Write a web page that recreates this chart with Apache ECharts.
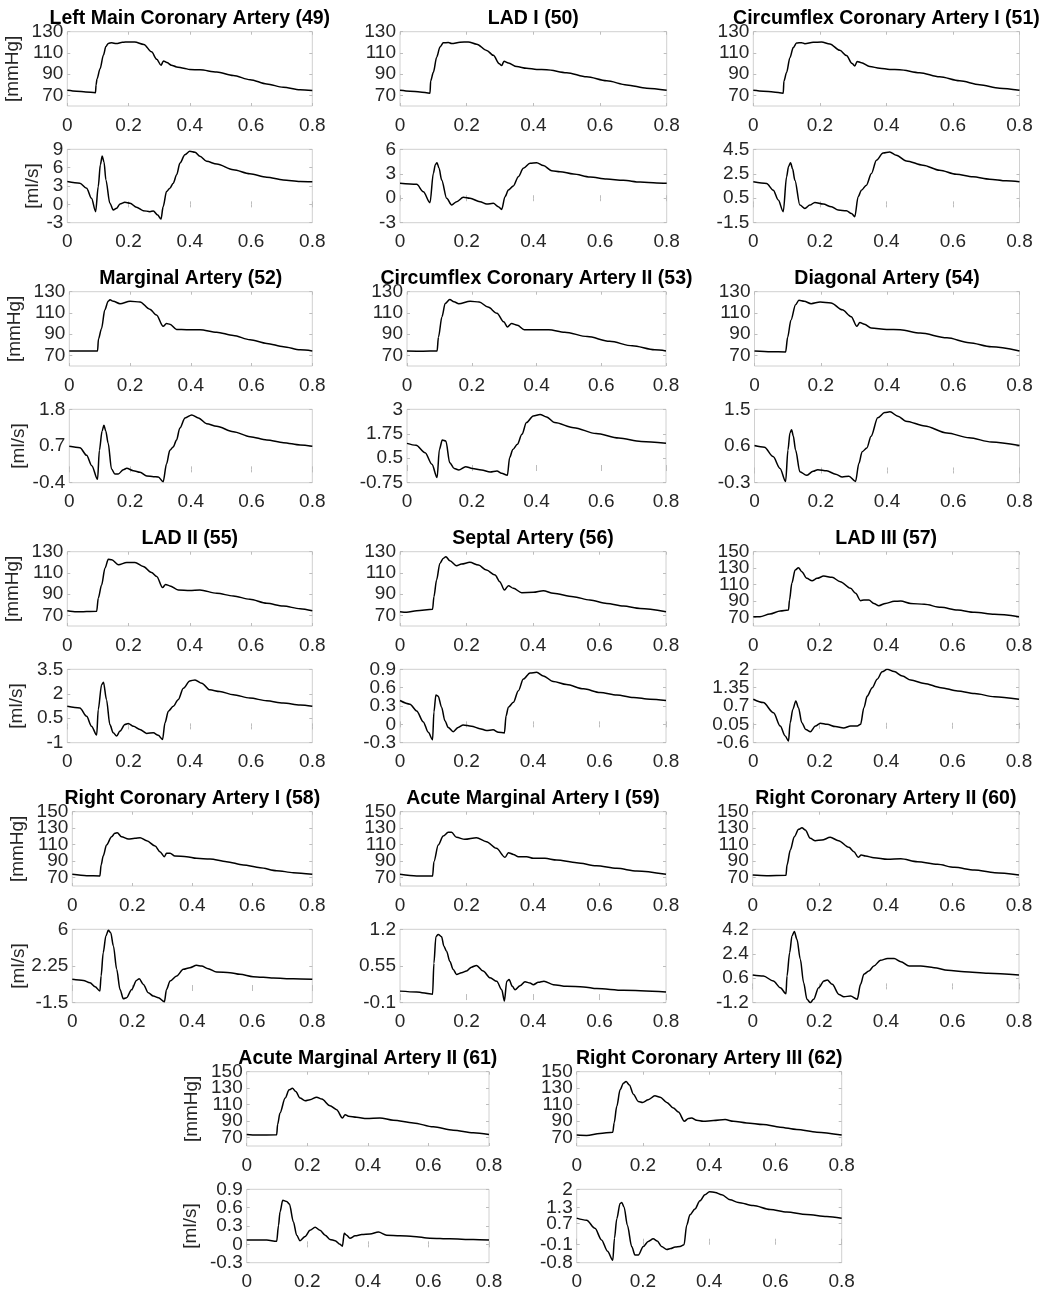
<!DOCTYPE html>
<html>
<head>
<meta charset="utf-8">
<title>Coronary pressure and flow waveforms</title>
<script src="https://cdn.jsdelivr.net/npm/echarts@6/dist/echarts.min.js"></script>
<style>
  html, body { margin: 0; padding: 0; background: #fff; }
  #chart { width: 1045px; height: 1293px; }
</style>
</head>
<body>
<div id="chart"></div>
<script>
// ---- Vessel names ----
const TITLES = [
  'Left Main Coronary Artery (49)', 'LAD I (50)', 'Circumflex Coronary Artery I (51)',
  'Marginal Artery (52)', 'Circumflex Coronary Artery II (53)', 'Diagonal Artery (54)',
  'LAD II (55)', 'Septal Artery (56)', 'LAD III (57)',
  'Right Coronary Artery I (58)', 'Acute Marginal Artery I (59)', 'Right Coronary Artery II (60)',
  'Acute Marginal Artery II (61)', 'Right Coronary Artery III (62)'
];

// ---- Tick labels ----
const X_TICKS = [0, 0.2, 0.4, 0.6, 0.8];
const P_TICKS_130 = [70, 90, 110, 130];
const P_TICKS_150 = [70, 90, 110, 130, 150];
const Q_TICKS = [
  [-3, 0, 3, 6, 9], [-3, 0, 3, 6], [-1.5, 0.5, 2.5, 4.5],
  [-0.4, 0.7, 1.8], [-0.75, 0.5, 1.75, 3], [-0.3, 0.6, 1.5],
  [-1, 0.5, 2, 3.5], [-0.3, 0, 0.3, 0.6, 0.9], [-0.6, 0.05, 0.7, 1.35, 2],
  [-1.5, 2.25, 6], [-0.1, 0.55, 1.2], [-1.2, 0.6, 2.4, 4.2],
  [-0.3, 0, 0.3, 0.6, 0.9], [-0.8, -0.1, 0.7, 1.3, 2]
];

// ---- Pressure [mmHg] over one cardiac cycle, [t (s), p] ----
const p49 = [[0,74.8],[0.03,74],[0.06,73.2],[0.092,72.5],[0.094,80],[0.097,85.5],[0.107,95],[0.118,108],[0.126,116],[0.134,119],[0.145,119.6],[0.16,118.8],[0.18,120],[0.2,120.4],[0.22,120.2],[0.25,118],[0.275,111],[0.292,104],[0.306,98.4],[0.314,102.4],[0.325,101],[0.34,98.5],[0.357,96.8],[0.38,95.6],[0.4,94.3],[0.433,94.1],[0.488,92],[0.542,88.7],[0.597,84.8],[0.651,80.8],[0.705,77.6],[0.76,75.3],[0.8,74.6]];
const p50 = [[0,74.8],[0.03,74],[0.06,73.2],[0.09,72.1],[0.092,83.7],[0.1,91.7],[0.11,106],[0.12,115.6],[0.13,119.5],[0.145,119.8],[0.155,118.8],[0.18,120.1],[0.205,120.4],[0.23,118.2],[0.26,112.4],[0.28,107.7],[0.298,99.7],[0.305,98.1],[0.312,102.2],[0.325,100.6],[0.35,97.1],[0.38,95.5],[0.41,94.5],[0.44,94.2],[0.5,91.4],[0.56,87.5],[0.62,83.7],[0.68,79.9],[0.74,76.7],[0.8,74.8]];
const p51 = [[0,74.8],[0.03,74],[0.06,73.2],[0.09,72.1],[0.092,83.5],[0.1,91.5],[0.11,105.5],[0.12,115],[0.13,119.3],[0.145,119.7],[0.155,118.7],[0.18,120],[0.205,120.3],[0.23,118.5],[0.26,112.5],[0.28,107.5],[0.297,100],[0.305,97.8],[0.312,102],[0.325,100.8],[0.35,97.2],[0.38,95.6],[0.41,94.5],[0.44,94.2],[0.5,91.4],[0.56,87.5],[0.62,83.7],[0.68,80],[0.74,76.8],[0.8,74.8]];
const p52 = [[0,74.2],[0.05,74.2],[0.093,74.2],[0.096,85.5],[0.106,95.2],[0.117,112.9],[0.128,121],[0.134,122.3],[0.145,121],[0.167,118.7],[0.2,121],[0.233,120.3],[0.265,113.5],[0.287,108],[0.309,97.4],[0.32,100],[0.331,99.4],[0.353,94.5],[0.386,94.2],[0.43,94.2],[0.485,91.9],[0.54,88.7],[0.595,84.8],[0.65,81.3],[0.705,78.1],[0.76,75.2],[0.8,74.2]];
const p53 = [[0,74.2],[0.05,74],[0.093,74.2],[0.097,87],[0.108,106.5],[0.118,119],[0.132,122.6],[0.145,120.5],[0.16,118.7],[0.195,121],[0.223,120.3],[0.25,115.5],[0.278,109.7],[0.299,101.6],[0.31,96.8],[0.323,100],[0.341,98.4],[0.362,94.2],[0.404,94.2],[0.438,94.2],[0.487,91.9],[0.557,87.7],[0.626,83.2],[0.696,79],[0.765,75.2],[0.8,74.2]];
const p54 = [[0,74.2],[0.05,73.5],[0.094,73.2],[0.1,87],[0.11,103.2],[0.124,117.7],[0.134,121.9],[0.15,121],[0.171,118.7],[0.198,120.3],[0.231,119.4],[0.265,112.9],[0.292,106.5],[0.309,97.4],[0.318,101],[0.332,99.4],[0.352,95.8],[0.399,94.5],[0.44,94.2],[0.5,91],[0.581,86.5],[0.648,81.9],[0.715,78.1],[0.8,74.2]];
const p55 = [[0,74.4],[0.03,73.4],[0.096,74],[0.101,86.1],[0.112,98.7],[0.123,114.5],[0.134,123],[0.145,122.4],[0.167,117.7],[0.194,119.9],[0.221,119.9],[0.248,116.1],[0.275,110.4],[0.292,106.6],[0.311,96.2],[0.321,99.1],[0.335,97.8],[0.362,94],[0.4,93.4],[0.433,94],[0.488,90.8],[0.542,88.3],[0.596,85.2],[0.651,81.4],[0.705,78.8],[0.76,76.3],[0.8,74.4]];
const p56 = [[0,73.5],[0.02,72.9],[0.05,74.4],[0.098,75.7],[0.102,87.6],[0.11,103.3],[0.12,119],[0.13,123.7],[0.138,125.3],[0.15,121.5],[0.17,116.8],[0.185,118.4],[0.21,120],[0.236,117.4],[0.26,112.7],[0.286,108],[0.3,101.8],[0.314,93.9],[0.326,98],[0.341,95.5],[0.366,91.4],[0.401,91.7],[0.431,93.3],[0.461,90.8],[0.521,87.6],[0.571,84.5],[0.622,81.3],[0.672,78.8],[0.722,76.6],[0.8,73.5]];
const p57 = [[0,71.3],[0.02,71.3],[0.05,74.5],[0.081,78.2],[0.106,79.4],[0.109,91.5],[0.116,111.7],[0.126,127.8],[0.136,130.6],[0.146,125.8],[0.161,117.7],[0.177,114.9],[0.192,117.7],[0.212,120.5],[0.237,118.9],[0.262,113.7],[0.293,105.6],[0.308,99.6],[0.323,90.7],[0.333,91.5],[0.348,91.5],[0.363,87.4],[0.378,84.6],[0.398,87.4],[0.424,89.9],[0.444,90.3],[0.474,87.4],[0.515,86.2],[0.565,82.6],[0.615,79.4],[0.666,76.6],[0.726,74.1],[0.8,71.3]];
const p58 = [[0,74.1],[0.048,72.5],[0.092,72.1],[0.096,85.4],[0.103,96.3],[0.114,109.6],[0.131,119.7],[0.142,123.8],[0.15,124.6],[0.164,119.7],[0.187,116.9],[0.209,117.7],[0.226,118.5],[0.248,114.9],[0.276,108.4],[0.292,101.6],[0.307,95.5],[0.314,99.6],[0.326,99.6],[0.342,96.3],[0.381,95.5],[0.414,93.5],[0.459,92.7],[0.514,89.5],[0.57,85.4],[0.626,82.2],[0.681,78.6],[0.737,76.2],[0.8,74.1]];
const p59 = [[0,74.1],[0.05,72.1],[0.098,72.1],[0.102,89.5],[0.115,109.6],[0.13,120.5],[0.145,125],[0.155,125],[0.17,118.9],[0.195,116.5],[0.23,118.5],[0.26,113.7],[0.29,105.6],[0.316,94.7],[0.326,100.4],[0.341,98.3],[0.356,95.5],[0.381,95.5],[0.401,93.5],[0.436,93.5],[0.471,91.5],[0.531,88.3],[0.591,84.6],[0.652,81.4],[0.712,78.2],[0.8,74.1]];
const p60 = [[0,73.3],[0.042,72.5],[0.1,72.9],[0.103,85.4],[0.113,103.6],[0.125,119.7],[0.138,128.6],[0.148,130.6],[0.158,127.8],[0.173,117.7],[0.188,114.9],[0.208,115.7],[0.233,118.9],[0.258,114.9],[0.289,106.8],[0.304,101.6],[0.317,94.7],[0.326,97.5],[0.339,96.3],[0.364,94.3],[0.405,92.3],[0.445,93.1],[0.495,89.5],[0.555,86.2],[0.606,82.6],[0.666,79.4],[0.727,76.2],[0.8,73.3]];
const p61 = [[0,74],[0.033,73.2],[0.099,73.6],[0.102,86],[0.11,100],[0.127,118],[0.14,128],[0.151,130],[0.162,126],[0.176,118],[0.193,114.8],[0.209,116],[0.231,119.2],[0.248,116.8],[0.275,108.8],[0.297,104],[0.316,94],[0.325,98],[0.336,96],[0.363,94.8],[0.396,93.2],[0.44,94],[0.484,91.2],[0.55,88],[0.616,83.2],[0.682,79.2],[0.748,76],[0.8,74]];
const p62 = [[0,73.2],[0.03,72.8],[0.07,75.2],[0.109,76.8],[0.113,88],[0.121,108],[0.131,128],[0.141,136],[0.149,138],[0.159,134],[0.171,122.8],[0.186,114],[0.199,112.8],[0.216,116],[0.236,120.8],[0.252,119.2],[0.272,112.8],[0.292,106],[0.307,101.2],[0.325,90],[0.337,93.2],[0.347,94],[0.362,91.2],[0.382,90],[0.413,90.8],[0.448,92],[0.473,90],[0.513,88],[0.563,86],[0.614,82.8],[0.664,80],[0.725,76.8],[0.8,73.2]];

// ---- Flow [ml/s] over one cardiac cycle, [t (s), q] ----
const q49 = [[0,3.74],[0.041,3.47],[0.063,2.64],[0.079,1.0],[0.0925,-1.19],[0.101,2.9],[0.108,6.5],[0.114,7.9],[0.12,6.9],[0.126,4.0],[0.139,0.18],[0.15,-0.92],[0.161,-0.64],[0.172,0.07],[0.188,0.34],[0.205,0.18],[0.226,-0.48],[0.248,-1.03],[0.27,-1.19],[0.281,-1.08],[0.295,-1.74],[0.306,-2.4],[0.313,-0.37],[0.324,2.1],[0.335,2.64],[0.346,3.47],[0.357,4.84],[0.368,6.75],[0.384,8.12],[0.4,8.67],[0.417,8.5],[0.433,7.85],[0.455,7.03],[0.488,6.59],[0.542,5.66],[0.596,5.0],[0.651,4.45],[0.705,4.0],[0.76,3.74],[0.8,3.7]];
const q50 = [[0,1.83],[0.05,1.7],[0.07,0.8],[0.09,-0.55],[0.1,3.05],[0.106,4.1],[0.111,4.36],[0.117,3.7],[0.125,2.24],[0.14,-0.01],[0.155,-0.83],[0.17,-0.42],[0.19,0.11],[0.21,-0.01],[0.24,-0.42],[0.26,-0.71],[0.28,-0.63],[0.295,-1.04],[0.305,-1.37],[0.315,0.19],[0.325,1.0],[0.34,1.5],[0.355,2.64],[0.37,3.67],[0.39,4.28],[0.41,4.36],[0.43,4.0],[0.455,3.38],[0.48,3.26],[0.52,2.97],[0.57,2.6],[0.62,2.36],[0.67,2.2],[0.72,1.99],[0.77,1.87],[0.8,1.83]];
const q51 = [[0,1.84],[0.04,1.7],[0.06,1.16],[0.075,0.35],[0.09,-0.6],[0.1,2.25],[0.106,3.1],[0.112,3.41],[0.118,2.9],[0.125,1.97],[0.14,-0.06],[0.155,-0.33],[0.17,-0.06],[0.185,0.16],[0.21,0.02],[0.235,-0.2],[0.255,-0.47],[0.28,-0.52],[0.295,-0.74],[0.305,-1.01],[0.315,0.62],[0.325,1.16],[0.34,1.57],[0.355,2.52],[0.37,3.6],[0.39,4.2],[0.41,4.28],[0.43,4.01],[0.46,3.55],[0.51,3.2],[0.56,2.79],[0.61,2.46],[0.66,2.25],[0.71,2.06],[0.76,1.92],[0.8,1.84]];
const q52 = [[0,0.69],[0.035,0.65],[0.057,0.42],[0.074,0.11],[0.093,-0.3],[0.099,0.57],[0.108,1.15],[0.114,1.32],[0.12,1.15],[0.128,0.78],[0.139,0.01],[0.15,-0.14],[0.161,-0.14],[0.178,-0.01],[0.189,0.03],[0.211,-0.04],[0.233,-0.09],[0.255,-0.2],[0.277,-0.22],[0.293,-0.23],[0.309,-0.37],[0.32,0.16],[0.331,0.57],[0.342,0.67],[0.353,0.88],[0.364,1.24],[0.381,1.54],[0.403,1.63],[0.425,1.54],[0.452,1.37],[0.485,1.29],[0.54,1.13],[0.595,0.98],[0.65,0.88],[0.705,0.8],[0.76,0.73],[0.8,0.69]];
const q53 = [[0,1.26],[0.028,1.16],[0.056,0.78],[0.077,0.19],[0.093,-0.49],[0.1,0.95],[0.109,1.43],[0.12,1.38],[0.132,0.27],[0.146,-0.03],[0.16,-0.1],[0.181,0.07],[0.202,-0.02],[0.23,-0.1],[0.257,-0.2],[0.278,-0.15],[0.292,-0.27],[0.31,-0.37],[0.317,0.53],[0.327,0.95],[0.341,1.21],[0.355,1.72],[0.369,2.32],[0.39,2.66],[0.411,2.74],[0.431,2.61],[0.456,2.32],[0.515,2.06],[0.584,1.76],[0.654,1.53],[0.723,1.36],[0.8,1.26]];
const q54 = [[0,0.61],[0.03,0.57],[0.056,0.34],[0.077,0.05],[0.094,-0.27],[0.101,0.5],[0.107,0.92],[0.112,1.0],[0.117,0.85],[0.124,0.5],[0.137,-0.03],[0.157,-0.12],[0.177,-0.02],[0.191,0.02],[0.218,-0.01],[0.245,-0.09],[0.265,-0.16],[0.285,-0.14],[0.305,-0.27],[0.315,0.17],[0.325,0.46],[0.339,0.55],[0.352,0.84],[0.372,1.29],[0.393,1.42],[0.409,1.44],[0.433,1.33],[0.457,1.21],[0.514,1.09],[0.581,0.92],[0.648,0.8],[0.715,0.7],[0.8,0.61]];
const q55 = [[0,1.23],[0.041,1.13],[0.063,0.62],[0.079,0.01],[0.096,-0.53],[0.101,1.03],[0.112,2.55],[0.118,2.71],[0.128,1.64],[0.139,0.11],[0.15,-0.39],[0.161,-0.59],[0.172,-0.29],[0.188,0.11],[0.199,0.18],[0.216,0.01],[0.237,-0.19],[0.259,-0.43],[0.281,-0.39],[0.297,-0.55],[0.311,-0.8],[0.319,0.22],[0.33,0.93],[0.346,1.23],[0.362,1.64],[0.379,2.34],[0.4,2.79],[0.417,2.85],[0.439,2.65],[0.465,2.24],[0.498,2.14],[0.542,1.94],[0.596,1.74],[0.651,1.57],[0.705,1.43],[0.76,1.31],[0.8,1.23]];
const q56 = [[0,0.39],[0.03,0.33],[0.05,0.22],[0.07,0.04],[0.085,-0.13],[0.098,-0.25],[0.102,0.2],[0.108,0.48],[0.115,0.46],[0.125,0.28],[0.135,0.06],[0.145,-0.05],[0.16,-0.12],[0.175,-0.05],[0.19,-0.01],[0.215,-0.03],[0.24,-0.07],[0.26,-0.1],[0.28,-0.09],[0.296,-0.13],[0.314,-0.14],[0.319,0.14],[0.326,0.28],[0.341,0.36],[0.356,0.55],[0.371,0.74],[0.391,0.84],[0.411,0.85],[0.431,0.79],[0.461,0.7],[0.501,0.65],[0.552,0.58],[0.602,0.52],[0.652,0.48],[0.702,0.44],[0.752,0.41],[0.8,0.39]];
const q57 = [[0,0.94],[0.03,0.82],[0.061,0.46],[0.081,-0.01],[0.096,-0.36],[0.106,-0.54],[0.111,0.11],[0.119,0.58],[0.128,0.88],[0.136,0.64],[0.146,0.11],[0.158,-0.13],[0.172,-0.21],[0.187,-0.01],[0.202,0.09],[0.222,0.05],[0.247,-0.03],[0.272,-0.08],[0.293,-0.01],[0.313,-0.01],[0.323,0.05],[0.333,0.64],[0.343,1.05],[0.358,1.35],[0.373,1.65],[0.388,1.91],[0.403,2.0],[0.424,1.92],[0.449,1.76],[0.474,1.62],[0.515,1.5],[0.565,1.35],[0.615,1.23],[0.666,1.14],[0.726,1.03],[0.8,0.94]];
const q58 = [[0,0.89],[0.037,0.78],[0.059,0.54],[0.076,0.14],[0.092,-0.31],[0.096,1.23],[0.103,3.61],[0.112,5.32],[0.12,5.9],[0.128,5.66],[0.137,4.3],[0.148,1.91],[0.159,-0.14],[0.17,-1.09],[0.181,-0.99],[0.198,-0.14],[0.214,0.78],[0.223,0.95],[0.237,0.37],[0.253,-0.48],[0.27,-0.82],[0.287,-0.99],[0.307,-1.4],[0.314,-0.14],[0.326,0.72],[0.348,1.23],[0.37,1.91],[0.392,2.08],[0.414,2.32],[0.431,2.25],[0.453,1.98],[0.481,1.64],[0.526,1.57],[0.559,1.4],[0.603,1.16],[0.67,1.02],[0.737,0.95],[0.8,0.89]];
const q59 = [[0,0.105],[0.05,0.09],[0.098,0.05],[0.102,0.6],[0.108,1.07],[0.115,1.11],[0.125,1.07],[0.132,0.9],[0.14,0.81],[0.15,0.63],[0.16,0.49],[0.17,0.4],[0.185,0.43],[0.2,0.46],[0.215,0.53],[0.23,0.56],[0.25,0.46],[0.271,0.34],[0.291,0.28],[0.306,0.13],[0.314,-0.07],[0.321,0.28],[0.328,0.31],[0.338,0.19],[0.346,0.13],[0.361,0.2],[0.376,0.27],[0.391,0.25],[0.401,0.22],[0.416,0.26],[0.433,0.28],[0.461,0.22],[0.501,0.19],[0.552,0.18],[0.592,0.15],[0.672,0.12],[0.8,0.09]];
const q60 = [[0,0.84],[0.032,0.76],[0.062,0.4],[0.083,-0.1],[0.1,-0.54],[0.103,0.76],[0.111,2.48],[0.118,3.71],[0.125,4.03],[0.133,3.46],[0.143,2.0],[0.153,0.27],[0.163,-0.95],[0.173,-1.2],[0.183,-0.95],[0.198,-0.1],[0.214,0.4],[0.224,0.47],[0.239,0.15],[0.259,-0.59],[0.274,-0.76],[0.294,-0.71],[0.314,-0.95],[0.324,0.15],[0.334,0.89],[0.349,1.13],[0.364,1.5],[0.384,1.92],[0.405,2.06],[0.425,2.06],[0.445,1.82],[0.47,1.5],[0.505,1.5],[0.545,1.38],[0.586,1.18],[0.636,1.08],[0.707,0.96],[0.8,0.84]];
const q61 = [[0,0.07],[0.066,0.07],[0.099,0.05],[0.105,0.31],[0.11,0.53],[0.119,0.72],[0.132,0.7],[0.141,0.66],[0.154,0.37],[0.165,0.15],[0.176,0.06],[0.193,0.13],[0.209,0.23],[0.226,0.28],[0.242,0.23],[0.259,0.15],[0.275,0.08],[0.292,0.06],[0.308,0.0],[0.316,-0.03],[0.322,0.18],[0.33,0.15],[0.341,0.1],[0.358,0.14],[0.38,0.16],[0.407,0.17],[0.435,0.2],[0.462,0.15],[0.506,0.14],[0.55,0.13],[0.605,0.1],[0.671,0.09],[0.748,0.08],[0.8,0.07]];
const q62 = [[0,0.9],[0.03,0.82],[0.055,0.51],[0.075,0.07],[0.093,-0.36],[0.109,-0.71],[0.114,0.13],[0.121,0.88],[0.131,1.46],[0.136,1.5],[0.143,1.32],[0.153,0.63],[0.166,-0.18],[0.176,-0.51],[0.186,-0.51],[0.201,-0.18],[0.216,0.01],[0.231,0.11],[0.243,0.03],[0.256,-0.18],[0.272,-0.3],[0.284,-0.26],[0.297,-0.2],[0.312,-0.18],[0.324,-0.12],[0.332,0.63],[0.342,1.03],[0.357,1.25],[0.372,1.56],[0.387,1.79],[0.401,1.91],[0.418,1.88],[0.438,1.79],[0.463,1.6],[0.488,1.5],[0.533,1.38],[0.584,1.23],[0.634,1.13],[0.694,1.04],[0.755,0.96],[0.8,0.9]];

const PRESSURE = [p49, p50, p51, p52, p53, p54, p55, p56, p57, p58, p59, p60, p61, p62];
const FLOW = [q49, q50, q51, q52, q53, q54, q55, q56, q57, q58, q59, q60, q61, q62];

// ---- Layout (pixels) ----
const PANEL_ROW = [0, 0, 0, 1, 1, 1, 2, 2, 2, 3, 3, 3, 4, 4];
const PANEL_X = [
  [67.3, 312.3], [400, 666.7], [753.3, 1019.5],
  [69.3, 312.3], [407, 666], [754.5, 1019.5],
  [67.3, 312.3], [400, 666], [753.3, 1019],
  [72.3, 312.3], [400, 666], [752.7, 1019],
  [246.7, 489], [576.7, 841.7]
];
const ROW_STEP = 260;
const P_TOP0 = 31.7, P_H = 74.3;
const Q_TOP0 = 149.3, Q_H = 73.4;
// panels carrying the unit labels, with the flow-name offset for each
const UNIT_GAP_Q = { 0: 25, 3: 29, 6: 41, 9: 44, 12: 46 };
const UNIT_GAP_P = 45;

const TICK_FONT = 'Liberation Sans';
const TICK_SIZE = 19;
const TEXT_COLOR = '#262626';
const BOX_COLOR = '#d0d0d0';
const TICK_COLOR = '#bdbdbd';

const grids = [], xAxes = [], yAxes = [], series = [], titles = [];
const tickStyle = { inside: true, length: 3, lineStyle: { color: TICK_COLOR, width: 1 } };
const labelText = { fontFamily: TICK_FONT, fontSize: TICK_SIZE, color: TEXT_COLOR };

function addPlot(left, right, top, height, yMin, yMax, yTicks, data, unitName, unitGap) {
  const g = grids.length;
  grids.push({
    left: left, top: top, width: right - left, height: height,
    show: true, borderColor: BOX_COLOR, borderWidth: 1, backgroundColor: 'transparent'
  });

  const xIndex = xAxes.length;
  xAxes.push({
    gridIndex: g, type: 'value', position: 'bottom', min: X_TICKS[0], max: X_TICKS[X_TICKS.length - 1],
    interval: 0.2,
    axisLine: { show: false }, splitLine: { show: false }, axisTick: tickStyle,
    axisLabel: Object.assign({ margin: 10, showMinLabel: true, showMaxLabel: true, hideOverlap: false }, labelText)
  });
  xAxes.push({
    gridIndex: g, type: 'value', position: 'top', min: X_TICKS[0], max: X_TICKS[X_TICKS.length - 1],
    interval: 0.2,
    axisLine: { show: false }, splitLine: { show: false }, axisTick: tickStyle,
    axisLabel: { show: false }
  });

  // The tick values are split over two coincident left axes (alternate values each),
  // so that every value keeps its label even where the ticks sit close together.
  const evenTicks = yTicks.filter(function (_, k) { return k % 2 === 0; });
  const oddTicks = yTicks.filter(function (_, k) { return k % 2 === 1; });
  const yIndex = yAxes.length;
  const yMain = {
    gridIndex: g, type: 'value', position: 'left', offset: 0, min: yMin, max: yMax,
    axisLine: { show: false }, splitLine: { show: false },
    axisTick: Object.assign({ customValues: yTicks }, tickStyle),
    axisLabel: Object.assign({ customValues: evenTicks, margin: 4, hideOverlap: false,
      showMinLabel: true, showMaxLabel: true }, labelText)
  };
  if (unitName) {
    yMain.name = unitName;
    yMain.nameLocation = 'middle';
    yMain.nameGap = unitGap;
    yMain.nameTextStyle = labelText;
  }
  yAxes.push(yMain);
  if (oddTicks.length) {
    yAxes.push({
      gridIndex: g, type: 'value', position: 'left', offset: 0, min: yMin, max: yMax,
      axisLine: { show: false }, splitLine: { show: false }, axisTick: { show: false },
      axisLabel: Object.assign({ customValues: oddTicks, margin: 4, hideOverlap: false,
        showMinLabel: true, showMaxLabel: true }, labelText)
    });
  }
  yAxes.push({
    gridIndex: g, type: 'value', position: 'right', offset: 0, min: yMin, max: yMax,
    axisLine: { show: false }, splitLine: { show: false },
    axisTick: Object.assign({ customValues: yTicks }, tickStyle),
    axisLabel: { show: false }
  });

  series.push({
    type: 'line', xAxisIndex: xIndex, yAxisIndex: yIndex, data: data,
    symbol: 'none', smooth: 0.3, smoothMonotone: 'x', silent: true,
    lineStyle: { color: '#000', width: 1.5 }
  });
}

TITLES.forEach(function (name, i) {
  const row = PANEL_ROW[i];
  const left = PANEL_X[i][0], right = PANEL_X[i][1];
  const pTop = P_TOP0 + ROW_STEP * row;
  const qTop = Q_TOP0 + ROW_STEP * row;
  const pTicks = i < 8 ? P_TICKS_130 : P_TICKS_150;
  const qTicks = Q_TICKS[i];
  const labelled = UNIT_GAP_Q[i] !== undefined;

  addPlot(left, right, pTop, P_H, 60, pTicks[pTicks.length - 1], pTicks, PRESSURE[i],
    labelled ? '[mmHg]' : null, UNIT_GAP_P);
  addPlot(left, right, qTop, Q_H, qTicks[0], qTicks[qTicks.length - 1], qTicks, FLOW[i],
    labelled ? '[ml/s]' : null, UNIT_GAP_Q[i]);

  titles.push({
    text: name, left: (left + right) / 2, top: pTop - 23, textAlign: 'center', padding: 0,
    textStyle: { fontFamily: 'Liberation Sans', fontWeight: 'bold', fontSize: 19.5, color: '#000' }
  });
});

const chart = echarts.init(document.getElementById('chart'), null, { renderer: 'canvas' });
chart.setOption({
  animation: false,
  backgroundColor: '#fff',
  title: titles,
  grid: grids,
  xAxis: xAxes,
  yAxis: yAxes,
  series: series
});
</script>
</body>
</html>
